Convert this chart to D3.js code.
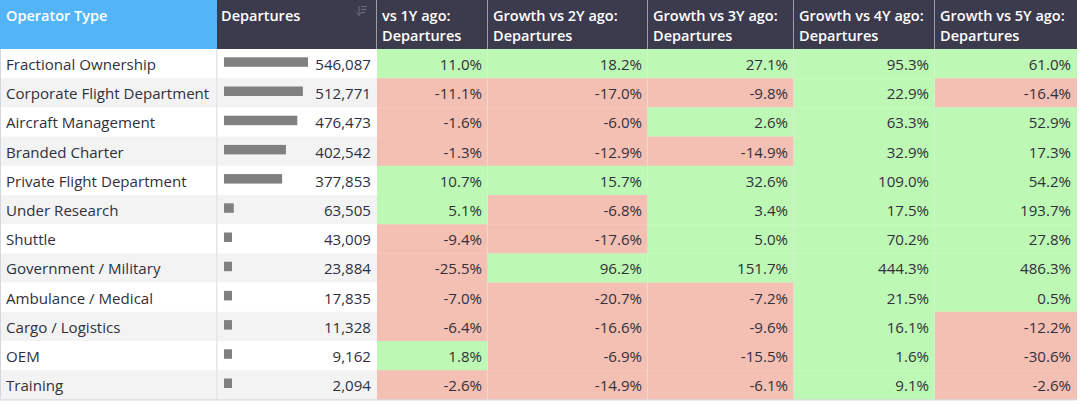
<!DOCTYPE html>
<html>
<head>
<meta charset="utf-8">
<script src="https://cdn.jsdelivr.net/npm/d3@7"></script>
<style>
  body { margin: 0; background: #fff; }
  svg { display: block; font-family: "Open Sans", sans-serif; }
</style>
</head>
<body>
<svg id="chart" width="1080" height="406"></svg>
<script>
var operators = ["Fractional Ownership", "Corporate Flight Department", "Aircraft Management",
  "Branded Charter", "Private Flight Department", "Under Research", "Shuttle",
  "Government / Military", "Ambulance / Medical", "Cargo / Logistics", "OEM", "Training"]
var departures = [546087, 512771, 476473, 402542, 377853, 63505, 43009, 23884, 17835, 11328, 9162, 2094]
var growth1Y = [11.0, -11.1, -1.6, -1.3, 10.7, 5.1, -9.4, -25.5, -7.0, -6.4, 1.8, -2.6]
var growth2Y = [18.2, -17.0, -6.0, -12.9, 15.7, -6.8, -17.6, 96.2, -20.7, -16.6, -6.9, -14.9]
var growth3Y = [27.1, -9.8, 2.6, -14.9, 32.6, 3.4, 5.0, 151.7, -7.2, -9.6, -15.5, -6.1]
var growth4Y = [95.3, 22.9, 63.3, 32.9, 109.0, 17.5, 70.2, 444.3, 21.5, 16.1, 1.6, 9.1]
var growth5Y = [61.0, -16.4, 52.9, 17.3, 54.2, 193.7, 27.8, 486.3, 0.5, -12.2, -30.6, -2.6]
var growthHeaders = [["vs 1Y ago:", "Departures"], ["Growth vs 2Y ago:", "Departures"],
  ["Growth vs 3Y ago:", "Departures"], ["Growth vs 4Y ago:", "Departures"],
  ["Growth vs 5Y ago:", "Departures"]]

var growth = [growth1Y, growth2Y, growth3Y, growth4Y, growth5Y]

var svg = d3.select("#chart")
var headerH = 49
var rowH = 29.2
var colX = [0, 217, 377, 488, 648, 794, 935, 1077]
var textColor = "#30303c"
var bodySize = "15.1px"
var fmtNum = d3.format(",")
var fmtPct = function(v){ return v.toFixed(1) + "%" }

var y = d3.scaleBand().domain(d3.range(operators.length))
  .range([headerH, headerH + rowH * operators.length])

var barX = d3.scaleLinear().domain([0, d3.max(departures)]).range([0, 84])

// header
svg.append("rect").attr("x", 0).attr("y", 0).attr("width", colX[1]).attr("height", headerH).attr("fill", "#53b5f8")
svg.append("rect").attr("x", colX[1]).attr("y", 0).attr("width", colX[7] - colX[1]).attr("height", headerH).attr("fill", "#3c3a4d")

svg.selectAll(".hsep").data(colX.slice(2, 7)).enter().append("line")
  .attr("x1", function(d){ return d - 0.5 }).attr("x2", function(d){ return d - 0.5 })
  .attr("y1", 0).attr("y2", headerH)
  .attr("stroke", "#9d9cab").attr("stroke-width", 1)

var hText = svg.append("g").attr("fill", "#fff").attr("font-size", "14.5px").attr("font-weight", 600)
hText.append("text").attr("x", 6).attr("y", 20.5).text("Operator Type")
hText.append("text").attr("x", colX[1] + 4).attr("y", 20.5).text("Departures")
growthHeaders.forEach(function(h, i){
  var t = hText.append("text").attr("x", colX[i + 2] + 5)
  t.append("tspan").attr("x", colX[i + 2] + 5).attr("y", 20.5).text(h[0])
  t.append("tspan").attr("x", colX[i + 2] + 5).attr("y", 40.5).text(h[1])
})

// sort icon
var icon = svg.append("g").attr("stroke", "#6e6d7e").attr("stroke-width", 1)
icon.append("line").attr("x1", 359).attr("x2", 359).attr("y1", 6).attr("y2", 15)
icon.append("path").attr("d", "M356.5,12.5 L359,15.5 L361.5,12.5").attr("fill", "none")
;[[361, 367, 6.5], [361, 366, 9.5], [361, 365, 12.5]].forEach(function(l){
  icon.append("line").attr("x1", l[0]).attr("x2", l[1]).attr("y1", l[2]).attr("y2", l[2])
})

// body rows
var rows = svg.selectAll(".row").data(operators).enter().append("g")
  .attr("class", "row")
  .attr("transform", function(d, i){ return "translate(0," + y(i) + ")" })

rows.append("rect").attr("x", 0).attr("width", colX[2]).attr("height", y.bandwidth())
  .attr("fill", function(d, i){ return i % 2 ? "#f3f3f4" : "#fff" })

rows.append("text").attr("x", 6).attr("y", 21)
  .attr("font-size", bodySize).attr("fill", textColor)
  .text(function(d){ return d })

rows.append("rect")
  .attr("x", 224).attr("y", 8.3).attr("height", 9.5)
  .attr("width", function(d, i){ return Math.max(barX(departures[i]), 8) })
  .attr("fill", "#808080")

rows.append("text").attr("x", colX[2] - 6).attr("y", 21)
  .attr("text-anchor", "end").attr("font-size", bodySize).attr("fill", textColor)
  .text(function(d, i){ return fmtNum(departures[i]) })

growth.forEach(function(series, c){
  var x0 = colX[c + 2], x1 = colX[c + 3]
  rows.append("rect").attr("x", x0).attr("width", x1 - x0).attr("height", y.bandwidth() + 0.3)
    .attr("fill", function(d, i){ return series[i] >= 0 ? "#bdf9b4" : "#f5c0b4" })
  rows.append("text").attr("x", x1 - 6).attr("y", 21)
    .attr("text-anchor", "end").attr("font-size", bodySize).attr("fill", textColor)
    .text(function(d, i){ return fmtPct(series[i]) })
})

// grid lines
var bodyTop = headerH, bodyBot = headerH + rowH * operators.length
svg.append("rect").attr("x", 216).attr("y", bodyTop).attr("width", 1.5).attr("height", bodyBot - bodyTop).attr("fill", "#e6e6ea")
svg.selectAll(".vsep").data(colX.slice(3, 7)).enter().append("line")
  .attr("x1", function(d){ return d - 0.5 }).attr("x2", function(d){ return d - 0.5 })
  .attr("y1", bodyTop).attr("y2", bodyBot)
  .attr("stroke", "#e4e9e4").attr("stroke-width", 1).attr("stroke-opacity", 0.6)
svg.append("line").attr("x1", 0.5).attr("x2", 0.5).attr("y1", bodyTop).attr("y2", bodyBot)
  .attr("stroke", "#d4d6e0")
svg.append("line").attr("x1", 0).attr("x2", colX[7]).attr("y1", bodyBot + 0.5).attr("y2", bodyBot + 0.5)
  .attr("stroke", "#cfd1d8")
</script>
</body>
</html>
